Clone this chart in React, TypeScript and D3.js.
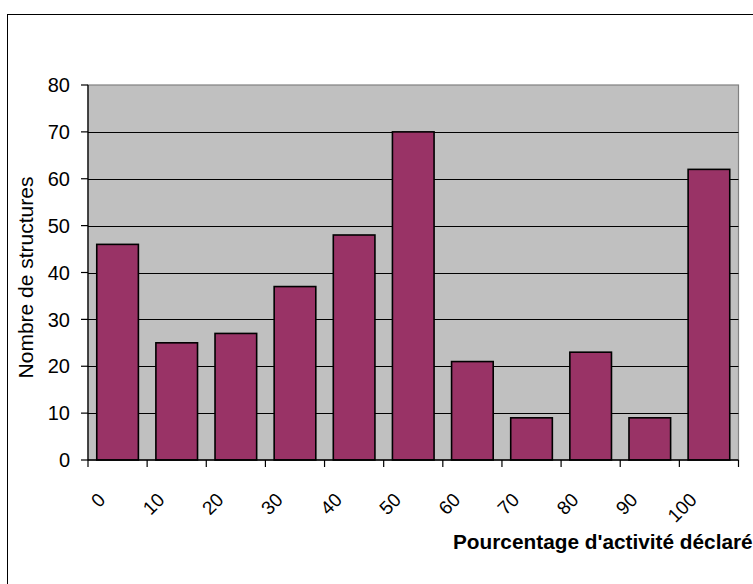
import React from "react";
import * as d3 from "d3";

const categories = ["0", "10", "20", "30", "40", "50", "60", "70", "80", "90", "100"];
const counts = [46, 25, 27, 37, 48, 70, 21, 9, 23, 9, 62];
const yTicks = [0, 10, 20, 30, 40, 50, 60, 70, 80];
const yTitle = "Nombre de structures";
const xTitle = "Pourcentage d'activité déclaré";

const W = 753;
const H = 584;
const plot = { left: 88, top: 85, right: 738.5, bottom: 460 };
const FONT = "Arial, 'Liberation Sans', sans-serif";

export default function App() {
  const x = d3
    .scaleBand<string>()
    .domain(categories)
    .range([plot.left, plot.right])
    .paddingInner(0.296)
    .paddingOuter(0.148);
  const y = d3.scaleLinear().domain([0, 80]).range([plot.bottom, plot.top]);
  const step = x.step();
  const boundaries = d3.range(categories.length + 1).map((i) => plot.left + i * step);

  return (
    <svg
      width={W}
      height={H}
      style={{ position: "absolute", left: 0, top: 0, background: "#fff" }}
      fontFamily={FONT}
    >
      {/* chart frame */}
      <rect x={7.5} y={14.5} width={900} height={800} fill="#fff" stroke="#000" strokeWidth={1} />

      {/* plot background */}
      <rect
        x={plot.left}
        y={plot.top}
        width={plot.right - plot.left}
        height={plot.bottom - plot.top}
        fill="#C0C0C0"
        stroke="#808080"
        strokeWidth={1.2}
      />

      {/* horizontal gridlines */}
      {yTicks
        .filter((t) => t > 0 && t < 80)
        .map((t) => (
          <line
            key={"g" + t}
            x1={plot.left}
            x2={plot.right}
            y1={Math.round(y(t)) + 0.5}
            y2={Math.round(y(t)) + 0.5}
            stroke="#000"
            strokeWidth={1}
          />
        ))}

      {/* bars */}
      {categories.map((c, i) => (
        <rect
          key={"b" + c}
          x={x(c)!}
          y={y(counts[i])}
          width={x.bandwidth()}
          height={y(0) - y(counts[i])}
          fill="#993366"
          stroke="#000"
          strokeWidth={1.6}
        />
      ))}

      {/* y axis */}
      <line x1={plot.left} x2={plot.left} y1={plot.top} y2={plot.bottom} stroke="#000" strokeWidth={1.2} />
      {yTicks.map((t) => (
        <g key={"y" + t}>
          <line x1={plot.left - 7} x2={plot.left} y1={y(t)} y2={y(t)} stroke="#000" strokeWidth={1.2} />
          <text x={70} y={y(t)} dy="0.36em" textAnchor="end" fontSize={20} fill="#000">
            {t}
          </text>
        </g>
      ))}

      {/* x axis */}
      <line x1={plot.left} x2={plot.right} y1={plot.bottom} y2={plot.bottom} stroke="#000" strokeWidth={1.6} />
      {boundaries.map((bx, i) => (
        <line key={"xt" + i} x1={bx} x2={bx} y1={plot.bottom} y2={plot.bottom + 7} stroke="#000" strokeWidth={1.2} />
      ))}
      {categories.map((c) => {
        const cx = x(c)! + x.bandwidth() / 2 - 11;
        const cy = 501;
        return (
          <text
            key={"xl" + c}
            x={cx}
            y={cy}
            textAnchor="end"
            fontSize={19}
            fill="#000"
            transform={`rotate(-45, ${cx}, ${cy})`}
          >
            {c}
          </text>
        );
      })}

      {/* axis titles */}
      <text
        x={0}
        y={0}
        transform={`translate(33, 277.5) rotate(-90)`}
        textAnchor="middle"
        fontSize={21}
        fill="#000"
      >
        {yTitle}
      </text>
      <text x={453} y={549} fontSize={20.8} fontWeight="bold" fill="#000">
        {xTitle}
      </text>
    </svg>
  );
}
